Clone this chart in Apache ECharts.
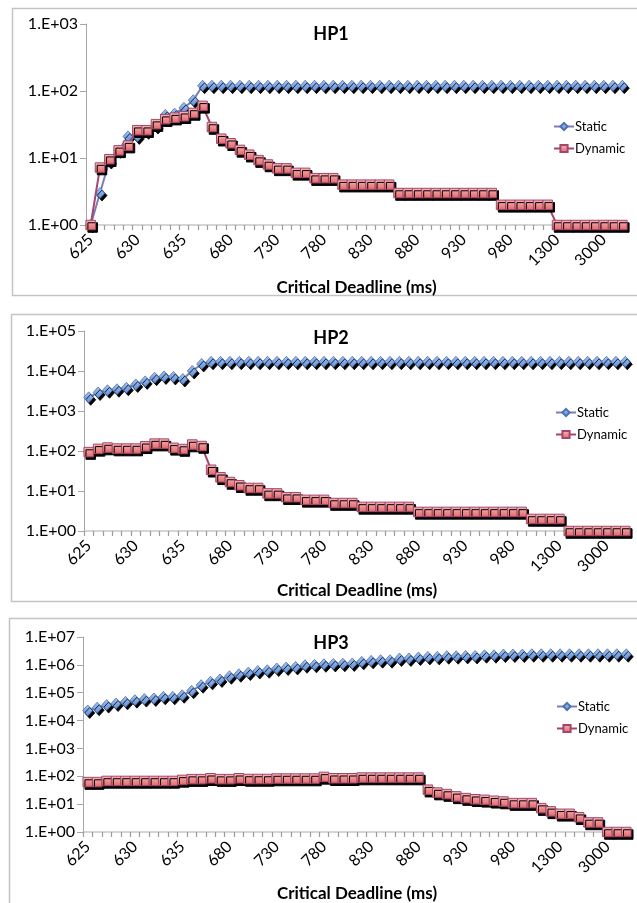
<!DOCTYPE html>
<html>
<head>
<meta charset="utf-8">
<script src="https://cdn.jsdelivr.net/npm/echarts@6/dist/echarts.min.js"></script>
<style>
html,body{margin:0;padding:0;background:#fff;}
#chart{width:637px;height:903px;}
</style>
</head>
<body>
<div id="chart"></div>
<script>
// ---- data ----
const categories = [625, 626, 627, 628, 629, 630, 631, 632, 633, 634, 635,
  640, 650, 660, 670, 680, 690, 700, 710, 720, 730, 740, 750, 760, 770, 780,
  790, 800, 810, 820, 830, 840, 850, 860, 870, 880, 890, 900, 910, 920, 930,
  940, 950, 960, 970, 980, 1000, 1100, 1200, 1250, 1300, 1500, 2000, 2500,
  2800, 3000, 3500, 4000];

const panelTitles = ['HP1', 'HP2', 'HP3'];
const seriesNames = ['Static', 'Dynamic'];
const xAxisTitle = 'Critical Deadline (ms)';
const yMax = [1e3, 1e5, 1e7];

const hp1Static = [1, 3, 9, 13, 21, 21, 25, 30, 44, 46, 56, 73,
  120, 120, 120, 120, 120, 120, 120, 120, 120, 120, 120, 120, 120, 120, 120,
  120, 120, 120, 120, 120, 120, 120, 120, 120, 120, 120, 120, 120, 120, 120,
  120, 120, 120, 120, 120, 120, 120, 120, 120, 120, 120, 120, 120, 120, 120, 120];
const hp1Dynamic = [1, 7.2, 9.6, 13, 15.3, 26, 26, 32, 38, 40, 42, 47, 60, 29,
  19.4, 16.6, 13.2, 11.2, 9.3, 8, 7, 7, 6, 6, 5, 5, 5, 4, 4, 4, 4, 4, 4,
  3, 3, 3, 3, 3, 3, 3, 3, 3, 3, 3, 2, 2, 2, 2, 2, 2, 1, 1, 1, 1, 1, 1, 1, 1];

const hp2Static = [2200, 2900, 3300, 3500, 3800, 4600, 5500, 6800, 7300, 7100,
  6300, 10000, 15000, 17000, 17000, 17000, 17000, 17000, 17000, 17000, 17000,
  17000, 17000, 17000, 17000, 17000, 17000, 17000, 17000, 17000, 17000, 17000,
  17000, 17000, 17000, 17000, 17000, 17000, 17000, 17000, 17000, 17000, 17000,
  17000, 17000, 17000, 17000, 17000, 17000, 17000, 17000, 17000, 17000, 17000,
  17000, 17000, 17000, 17000];
const hp2Dynamic = [94, 113, 122, 115, 115, 115, 131, 153, 153, 120, 112, 145,
  133, 34, 22, 16.8, 13.9, 11.9, 11.9, 8.7, 8.7, 7, 7, 6, 6, 6, 5, 5, 5,
  4, 4, 4, 4, 4, 4, 3, 3, 3, 3, 3, 3, 3, 3, 3, 3, 3, 3, 2, 2, 2, 2,
  1, 1, 1, 1, 1, 1, 1];

const hp3Static = [23000, 29000, 36000, 41000, 47000, 54000, 59000, 62000,
  71000, 71000, 81000, 117000, 186000, 245000, 300000, 390000, 460000, 530000,
  600000, 640000, 740000, 800000, 840000, 970000, 1000000, 1050000, 1080000,
  1100000, 1120000, 1280000, 1390000, 1470000, 1470000, 1690000, 1690000,
  1830000, 1930000, 1930000, 2040000, 2040000, 2090000, 2090000, 2220000,
  2220000, 2340000, 2340000, 2340000, 2400000, 2400000, 2400000, 2400000,
  2400000, 2400000, 2400000, 2400000, 2400000, 2400000, 2400000];
const hp3Dynamic = [62, 62, 68, 68, 68, 68, 68, 68, 68, 68, 74, 79, 79, 85, 79,
  79, 85, 80, 80, 80, 83, 83, 83, 83, 83, 95, 85, 85, 85, 90, 90, 90, 90, 90,
  90, 90, 33, 26, 23, 19, 16.5, 15, 14.3, 13.2, 12.4, 10.9, 10.9, 10.9, 7.2,
  5.5, 4.5, 4.5, 3.4, 2.2, 2.2, 1, 1, 1];

const staticData = [hp1Static, hp2Static, hp3Static];
const dynamicData = [hp1Dynamic, hp2Dynamic, hp3Dynamic];

// ---- layout ----
const FONT = 'Lato';
const grids = [
  {left: 86, top: 24, width: 541, height: 201},
  {left: 84, top: 331, width: 546, height: 200},
  {left: 83, top: 637, width: 548, height: 195}
];
const boxes = [
  {x: 12.5, y: 8.5, h: 287},
  {x: 11.5, y: 314.5, h: 287},
  {x: 9.5, y: 618.5, h: 300}
];
const titleTops = [25, 329, 634];
const legendTops = [120, 406, 700];
const legendLefts = [553, 555, 556];
const nameGaps = [54, 51, 53];

function expLabel(v) {
  const e = Math.round(Math.log10(v));
  return '1.E+' + (e < 10 ? '0' + e : '' + e);
}

const shadow = {shadowColor: 'rgba(0,0,0,1)', shadowBlur: 0, shadowOffsetX: 2, shadowOffsetY: 2.5};

const staticItem = Object.assign({
  color: {type: 'linear', x: 0, y: 0, x2: 0, y2: 1,
    colorStops: [{offset: 0, color: '#a6c4f0'}, {offset: 1, color: '#5e8fd8'}]},
  borderColor: '#4d72b4', borderWidth: 0.8
}, shadow);
const dynItem = Object.assign({
  color: {type: 'linear', x: 0, y: 0, x2: 0, y2: 1,
    colorStops: [{offset: 0, color: '#f8b8b8'}, {offset: 1, color: '#e26666'}]},
  borderColor: '#a3466f', borderWidth: 1
}, shadow);

const option = {
  animation: false,
  backgroundColor: '#ffffff',
  textStyle: {fontFamily: FONT},
  graphic: boxes.map(b => ({
    type: 'rect', z: -1,
    shape: {x: b.x, y: b.y, width: 640, height: b.h},
    style: {fill: 'none', stroke: '#c4c4c4', lineWidth: 1.5}
  })),
  title: panelTitles.map((t, i) => ({
    text: t, left: 331, top: titleTops[i], textAlign: 'center', padding: 0,
    textStyle: {fontFamily: FONT, fontWeight: 'bold', fontSize: 18, color: '#000'}
  })),
  legend: panelTitles.map((t, i) => ({
    data: seriesNames, orient: 'vertical', left: legendLefts[i], top: legendTops[i],
    padding: 0, itemWidth: 20, itemHeight: 9, itemGap: 9, selectedMode: false,
    textStyle: {fontFamily: FONT, fontSize: 13, color: '#000', padding: [0, 0, 0, -4]}
  })),
  grid: grids,
  xAxis: grids.map((g, i) => ({
    type: 'category', gridIndex: i, data: categories, boundaryGap: true,
    name: xAxisTitle, nameLocation: 'middle', nameGap: nameGaps[i],
    nameTextStyle: {fontFamily: FONT, fontWeight: 'bold', fontSize: 17, color: '#000'},
    axisLine: {show: true, onZero: false, lineStyle: {color: '#c8c8c8', width: 1.5}},
    axisTick: {show: true, interval: 0, length: 5, lineStyle: {color: '#9c9c9c', width: 1.2}},
    axisLabel: {show: true, interval: 4, rotate: 45, margin: 12, fontFamily: FONT, fontSize: 16, color: '#000'},
    splitLine: {show: false}
  })),
  yAxis: grids.map((g, i) => ({
    type: 'log', logBase: 10, gridIndex: i, min: 1, max: yMax[i],
    splitNumber: Math.round(Math.log10(yMax[i])),
    axisLine: {show: true, lineStyle: {color: '#a6a6a6', width: 1}},
    axisTick: {show: true, length: 6, lineStyle: {color: '#a6a6a6'}},
    axisLabel: {formatter: expLabel, margin: 8, fontFamily: FONT, fontSize: 16, color: '#000'},
    splitLine: {show: false}
  })),
  series: []
};

for (let i = 0; i < 3; i++) {
  option.series.push({
    name: seriesNames[0], type: 'line', xAxisIndex: i, yAxisIndex: i,
    data: staticData[i], symbol: 'diamond', symbolSize: [10, 11],
    showAllSymbol: true, smooth: false,
    lineStyle: {color: '#7c7db8', width: 2}, itemStyle: staticItem, z: 2
  });
  option.series.push({
    name: seriesNames[1], type: 'line', xAxisIndex: i, yAxisIndex: i,
    data: dynamicData[i], symbol: 'rect', symbolSize: 9.5,
    showAllSymbol: true, smooth: false,
    lineStyle: {color: '#a4466f', width: 2}, itemStyle: dynItem, z: 3
  });
}

const chart = echarts.init(document.getElementById('chart'), null, {renderer: 'canvas'});
chart.setOption(option);
</script>
</body>
</html>
